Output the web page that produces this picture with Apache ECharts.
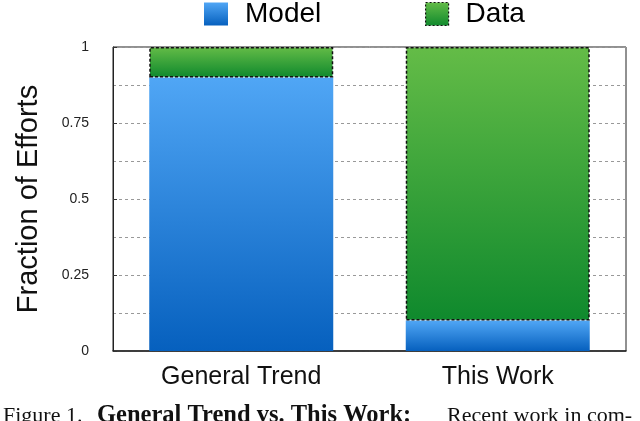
<!DOCTYPE html>
<html>
<head>
<meta charset="utf-8">
<style>html,body{margin:0;padding:0;background:#fff;}#c{width:640px;height:421px;}</style>
<script src="https://cdn.jsdelivr.net/npm/echarts@6/dist/echarts.min.js"></script>
</head>
<body>
<div id="c"></div>
<script>
const categories = ['General Trend', 'This Work'];
const modelValues = [0.9, 0.1];
const dataValues = [0.1, 0.9];
const seriesNames = ['Model', 'Data'];
const yTickLabels = ['0', '0.25', '0.5', '0.75', '1'];
const yAxisTitle = 'Fraction of Efforts';
const captionParts = ['Figure 1.', 'General Trend vs. This Work:', 'Recent work in com-'];

const chart = echarts.init(document.getElementById('c'), null, {renderer: 'canvas'});
const blueGrad = new echarts.graphic.LinearGradient(0, 0, 0, 1, [
  {offset: 0, color: '#50a6f5'}, {offset: 1, color: '#0660be'}]);
const greenGrad = new echarts.graphic.LinearGradient(0, 0, 0, 1, [
  {offset: 0, color: '#64bc47'}, {offset: 1, color: '#0f892d'}]);
const font = '"Liberation Sans", Arial, Helvetica, sans-serif';
const serif = '"Liberation Serif", "Times New Roman", serif';

chart.setOption({
  animation: false,
  backgroundColor: '#fff',
  grid: {left: 113, right: 14, top: 47, bottom: 70, show: true, borderColor: '#222', borderWidth: 1, backgroundColor: 'transparent'},
  legend: [
    {data: [seriesNames[0]], icon: 'rect', left: 204, top: 0, itemWidth: 24, itemHeight: 23, padding: 0,
     textStyle: {fontSize: 28, fontFamily: font, color: '#000', padding: [0, 0, 0, 12]}},
    {data: [{name: seriesNames[1], itemStyle: {borderColor: '#111', borderWidth: 1.2, borderType: [2, 2]}}],
     icon: 'rect', left: 425, top: 0, itemWidth: 23, itemHeight: 23, padding: 0,
     textStyle: {fontSize: 28, fontFamily: font, color: '#000', padding: [0, 0, 0, 12]}}
  ],
  xAxis: {
    type: 'category', data: categories,
    axisLine: {show: true, lineStyle: {color: '#222', width: 1.5}},
    axisTick: {show: false},
    axisLabel: {fontSize: 25, fontFamily: font, color: '#111', margin: 14}
  },
  yAxis: {
    type: 'value', min: 0, max: 1, interval: 0.25,
    name: yAxisTitle, nameLocation: 'middle', nameGap: 70,
    nameTextStyle: {fontSize: 29, fontFamily: font, color: '#111'},
    axisLine: {show: true, lineStyle: {color: '#222'}},
    axisTick: {show: true, inside: true, length: 4, lineStyle: {color: '#333'}},
    axisLabel: {fontSize: 14, fontFamily: font, color: '#222', margin: 24,
      formatter: function (v) { const i = Math.round(v / 0.25); return yTickLabels[i]; }},
    splitLine: {show: true, lineStyle: {color: '#999', type: [3, 3], width: 1}},
    minorTick: {show: false, splitNumber: 2},
    minorSplitLine: {show: true, lineStyle: {color: '#999', type: [3, 3], width: 1}}
  },
  series: [
    {name: seriesNames[0], type: 'bar', stack: 'a', data: modelValues, barWidth: 184,
     itemStyle: {color: blueGrad}},
    {name: seriesNames[1], type: 'bar', stack: 'a', data: dataValues, barWidth: 184,
     itemStyle: {color: greenGrad, borderColor: '#111', borderWidth: 1.5, borderType: [3, 2]}}
  ],
  graphic: [
    {type: 'text', left: 3, top: 405, style: {text: captionParts[0], font: '22px ' + serif, fill: '#111'}},
    {type: 'text', left: 97, top: 403.5, style: {text: captionParts[1], font: 'bold 24.5px ' + serif, fill: '#111'}},
    {type: 'text', left: 447, top: 405, style: {text: captionParts[2], font: '22px ' + serif, fill: '#111'}}
  ]
});
</script>
</body>
</html>
